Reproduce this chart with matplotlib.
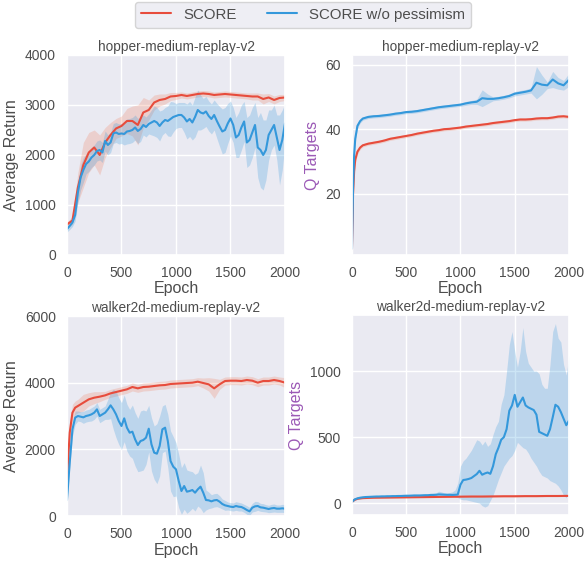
import matplotlib
matplotlib.use("Agg")
import matplotlib.pyplot as plt
import seaborn as sns
import numpy as np

# ---- hopper return (top left) ----
hop_ret_x_red = np.arange(0, 2001, 50)
hop_ret_red = [610, 690, 1350, 1800, 2050, 2150, 2000, 2250, 2400, 2530,
               2580, 2680, 2680, 2600, 2850, 2900, 3050, 3100, 3120, 3170,
               3180, 3200, 3180, 3200, 3220, 3230, 3220, 3200, 3210, 3220,
               3210, 3200, 3190, 3180, 3170, 3170, 3120, 3150, 3100, 3140,
               3150]
hop_ret_red_sd = [50, 80, 300, 450, 400, 350, 400, 300, 250, 200,
                  200, 250, 300, 400, 300, 200, 150, 120, 100, 80,
                  70, 60, 60, 60, 60, 60, 60, 60, 60, 60,
                  60, 60, 60, 60, 70, 70, 100, 80, 80, 70,
                  60]
hop_ret_x_blue = np.arange(0, 2001, 25)
hop_ret_blue = [520, 580, 650, 800, 1250, 1550, 1700, 1820, 1870, 1950,
                2000, 2080, 2100, 2050, 2280, 2200, 2250, 2430, 2450, 2420,
                2430, 2420, 2470, 2480, 2500, 2550, 2480, 2520, 2600, 2560,
                2620, 2650, 2680, 2650, 2580, 2650, 2700, 2680, 2720, 2760,
                2780, 2800, 2800, 2750, 2670, 2720, 2650, 2760, 2900, 2850,
                2830, 2870, 2780, 2720, 2800, 2680, 2570, 2470, 2500, 2630,
                2730, 2600, 2350, 2400, 2550, 2670, 2250, 2300, 2450, 2600,
                2150, 2100, 2000, 2100, 2400, 2500, 2600, 2350, 2100, 2300,
                2630]
hop_ret_blue_sd = [60, 70, 80, 120, 200, 250, 250, 200, 200, 200,
                   200, 200, 200, 200, 200, 200, 200, 200, 200, 200,
                   200, 220, 250, 250, 250, 250, 250, 250, 200, 200,
                   200, 250, 300, 300, 300, 250, 250, 300, 350, 300,
                   250, 250, 250, 300, 350, 350, 350, 400, 400, 350,
                   300, 300, 300, 300, 300, 350, 400, 450, 450, 400,
                   350, 350, 400, 450, 450, 400, 500, 500, 500, 450,
                   600, 750, 700, 600, 500, 400, 400, 450, 700, 600,
                   400]

# ---- hopper Q targets (top right) ----
hop_q_x = [0, 10, 20, 30, 50, 75] + list(range(100, 2001, 50))
hop_q_red = [3, 20, 27, 30.5, 33, 34.3,
             35, 35.5, 35.8, 36.1, 36.5, 37, 37.3, 37.6, 37.9, 38.2,
             38.6, 38.9, 39.2, 39.5, 39.7, 40, 40.1, 40.3, 40.5, 40.8,
             41, 41.2, 41.4, 41.6, 41.9, 42.1, 42.3, 42.5, 42.8, 43,
             43, 43.1, 43.3, 43.4, 43.4, 43.6, 43.9, 44, 43.8]
hop_q_red_sd = [1, 1.5, 1.2, 1, 0.8, 0.6,
                0.5, 0.5, 0.5, 0.5, 0.5, 0.5, 0.5, 0.5, 0.5, 0.5,
                0.5, 0.5, 0.5, 0.5, 0.5, 0.5, 0.5, 0.5, 0.5, 0.5,
                0.5, 0.5, 0.5, 0.5, 0.5, 0.5, 0.5, 0.5, 0.5, 0.5,
                0.5, 0.5, 0.5, 0.5, 0.5, 0.5, 0.5, 0.5, 0.5]
hop_q_blue = [3, 22, 32, 37, 41, 42.5,
              43.3, 43.8, 44, 44.1, 44.3, 44.5, 44.8, 45, 45.3, 45.4,
              45.6, 45.9, 46.2, 46.5, 46.8, 47, 47.2, 47.4, 47.6, 48,
              48.3, 48.5, 49.6, 49.4, 49.4, 49.6, 49.9, 50.3, 51, 51.3,
              51.6, 52, 54.4, 53.8, 53.6, 55.4, 54.2, 53.6, 55.3]
hop_q_blue_sd = [1, 1.5, 1.2, 1, 0.8, 0.6,
                 0.5, 0.5, 0.5, 0.5, 0.5, 0.5, 0.5, 0.5, 0.5, 0.5,
                 0.5, 0.5, 0.5, 0.5, 0.5, 0.5, 0.5, 0.5, 0.5, 0.6,
                 0.6, 0.8, 2.6, 1.5, 0.6, 0.6, 0.6, 0.6, 0.7, 0.7,
                 0.7, 0.8, 5, 3, 1, 2.5, 1.8, 1.5, 2]

# ---- walker return (bottom left) ----
walk_ret_x_red = [0, 25, 50, 75] + list(range(100, 2001, 50))
walk_ret_red = [1100, 2500, 3100, 3250,
                3300, 3400, 3500, 3550, 3580, 3620, 3680, 3720, 3760, 3800,
                3870, 3830, 3870, 3880, 3900, 3920, 3930, 3960, 3970, 3980,
                3990, 4000, 4030, 3990, 3950, 3830, 3950, 4050, 4060, 4060,
                4050, 4080, 4060, 4000, 4050, 4050, 4080, 4050, 4000]
walk_ret_red_sd = [150, 300, 250, 200,
                   200, 250, 200, 180, 150, 120, 120, 120, 120, 120,
                   120, 120, 120, 120, 120, 120, 120, 120, 120, 120,
                   120, 120, 120, 150, 200, 300, 150, 120, 120, 120,
                   120, 120, 120, 120, 120, 120, 120, 120, 150]
walk_ret_x_blue = np.arange(0, 2001, 25)
walk_ret_blue = [480, 1600, 2600, 2950, 3000, 2980, 2960, 3000, 3020, 3050,
                 3100, 3200, 3000, 3050, 3100, 3200, 3320, 3200, 3050, 2850,
                 2700, 2930, 2650, 2500, 2530, 2300, 2130, 2250, 2280, 2350,
                 2620, 2150, 1900, 1870, 2100, 2600, 2650, 2250, 1650, 1480,
                 1400, 1050, 750, 900, 730, 750, 780, 700, 800, 880,
                 700, 480, 470, 440, 470, 480, 430, 360, 320, 300,
                 280, 270, 300, 280, 270, 230, 180, 140, 250, 290,
                 300, 260, 250, 230, 210, 230, 240, 220, 220, 230,
                 220]
walk_ret_blue_sd = [80, 150, 200, 200, 150, 150, 180, 180, 180, 200,
                    200, 200, 200, 200, 200, 300, 400, 600, 700, 700,
                    700, 700, 700, 700, 800, 800, 800, 900, 900, 800,
                    700, 800, 800, 900, 900, 700, 700, 800, 900, 900,
                    800, 800, 700, 700, 650, 600, 550, 550, 500, 650,
                    600, 300, 250, 200, 200, 200, 180, 150, 150, 120,
                    120, 120, 130, 130, 120, 120, 130, 120, 130, 150,
                    130, 120, 120, 110, 110, 120, 120, 110, 110, 120,
                    120]

# ---- walker Q targets (bottom right) ----
walk_q_x_red = [0, 25, 50] + list(range(100, 2001, 100))
walk_q_red = [10, 25, 33, 38, 41, 42, 43, 44, 45, 46, 47, 48, 49, 50,
              50, 51, 52, 52, 53, 53, 54, 54, 55]
walk_q_red_sd = [3, 4, 5, 5, 5, 5, 5, 5, 5, 5, 5, 5, 5, 5,
                 5, 5, 5, 5, 5, 5, 5, 5, 5]
walk_q_x_blue = np.arange(0, 2001, 25)
walk_q_blue = [10, 28, 36, 41, 44, 46, 47, 48, 49, 50,
               50, 51, 51, 52, 52, 53, 53, 54, 54, 55,
               56, 56, 57, 58, 58, 58, 59, 60, 60, 62,
               62, 63, 66, 65, 64, 63, 63, 62, 63, 65,
               140, 175, 178, 183, 190, 205, 220, 245, 215, 225,
               232, 222, 280, 370, 420, 480, 500, 560, 700, 740,
               820, 730, 765, 800, 740, 725, 715, 705, 670, 540,
               530, 520, 510, 560, 650, 745, 730, 690, 640, 590,
               625]
walk_q_blue_hi = [16, 36, 44, 49, 52, 54, 55, 56, 57, 58,
                  58, 59, 59, 60, 60, 61, 61, 62, 62, 63,
                  64, 64, 65, 66, 66, 66, 67, 68, 70, 74,
                  76, 78, 90, 85, 78, 75, 80, 85, 100, 150,
                  280, 320, 340, 370, 400, 440, 480, 470, 440, 470,
                  430, 450, 520, 580, 620, 750, 820, 1000, 1200, 1300,
                  1150, 1030, 1150, 1330, 1150, 1060, 1030, 1000, 1000, 980,
                  900, 870, 870, 1050, 1300, 1360, 1250, 1220, 1050, 970,
                  1120]
walk_q_blue_lo = [5, 22, 30, 35, 38, 40, 41, 42, 43, 44,
                  44, 45, 45, 46, 46, 47, 47, 48, 48, 49,
                  50, 50, 51, 52, 52, 52, 53, 54, 54, 54,
                  54, 55, 55, 55, 54, 53, 52, 50, 48, 42,
                  30, 25, 25, 20, 15, 10, 5, 0, -20, -30,
                  -20, 20, 60, 120, 180, 230, 280, 310, 340, 360,
                  400, 460, 440, 420, 410, 380, 340, 310, 280, 240,
                  210, 200, 190, 170, 160, 150, 130, 100, 60, 40,
                  150]

red = '#e74c3c'
blue = '#3498db'
red_band = '#f08060'
purple = '#9b59b6'

sns.set_theme(style='darkgrid')
plt.rcParams['font.family'] = ['Liberation Sans', 'DejaVu Sans']
plt.rcParams['text.color'] = '.3'
plt.rcParams['xtick.color'] = '.3'
plt.rcParams['ytick.color'] = '.3'
plt.rcParams['axes.labelcolor'] = '.3'

fig = plt.figure(figsize=(5.84, 5.61), dpi=100)
ax1 = fig.add_axes([0.1147, 0.5455, 0.3733, 0.3565])
ax2 = fig.add_axes([0.6027, 0.5455, 0.3716, 0.3565])
ax3 = fig.add_axes([0.1147, 0.0802, 0.3733, 0.3565])
ax4 = fig.add_axes([0.6027, 0.0820, 0.3716, 0.3565])


def draw(ax, x, y, sd, color, band, label=None):
    y = np.array(y, dtype=float)
    sd = np.array(sd, dtype=float)
    ax.fill_between(x, y - sd, y + sd, color=band, alpha=0.25, lw=0)
    ax.plot(x, y, color=color, lw=1.5, label=label)


# top left
draw(ax1, hop_ret_x_red, hop_ret_red, hop_ret_red_sd, red, red_band, 'SCORE')
draw(ax1, hop_ret_x_blue, hop_ret_blue, hop_ret_blue_sd, blue, blue, 'SCORE w/o pessimism')
ax1.set_ylim(0, 4000)
ax1.set_ylabel('Average Return', fontsize=11.5)

# top right
draw(ax2, hop_q_x, hop_q_red, hop_q_red_sd, red, red_band)
draw(ax2, hop_q_x, hop_q_blue, hop_q_blue_sd, blue, blue)
ax2.set_ylim(1, 63)
ax2.set_yticks([20, 40, 60])
ax2.set_ylabel('Q Targets', fontsize=11.5, color=purple)

# bottom left
draw(ax3, walk_ret_x_red, walk_ret_red, walk_ret_red_sd, red, red_band)
draw(ax3, walk_ret_x_blue, walk_ret_blue, walk_ret_blue_sd, blue, blue)
ax3.set_ylim(0, 6000)
ax3.set_yticks([0, 2000, 4000, 6000])
ax3.set_ylabel('Average Return', fontsize=11.5)

# bottom right
draw(ax4, walk_q_x_red, walk_q_red, walk_q_red_sd, red, red_band)
ax4.fill_between(walk_q_x_blue, walk_q_blue_lo, walk_q_blue_hi, color=blue, alpha=0.25, lw=0)
ax4.plot(walk_q_x_blue, walk_q_blue, color=blue, lw=1.5)
ax4.set_ylim(-90, 1425)
ax4.set_yticks([0, 500, 1000])
ax4.set_ylabel('Q Targets', fontsize=11.5, color=purple)

titles = ['hopper-medium-replay-v2', 'hopper-medium-replay-v2',
          'walker2d-medium-replay-v2', 'walker2d-medium-replay-v2']
for ax, t in zip([ax1, ax2, ax3, ax4], titles):
    ax.set_xlim(0, 2000)
    ax.set_xticks([0, 500, 1000, 1500, 2000])
    ax.set_title(t, fontsize=9.8, pad=3)
    ax.set_xlabel('Epoch', fontsize=11.5, labelpad=1)
    ax.tick_params(labelsize=10, pad=2)

fig.legend(loc='upper center', ncol=2, bbox_to_anchor=(0.519, 1.005), fontsize=10.8,
           borderaxespad=0.3)

fig.savefig('out.png', dpi=100)
